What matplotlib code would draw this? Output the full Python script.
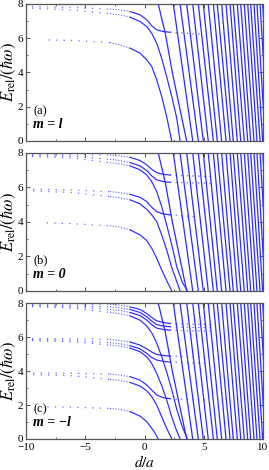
import numpy as np
import matplotlib.pyplot as plt
from matplotlib.ticker import MultipleLocator

plt.rcParams['font.family'] = ['Liberation Serif', 'DejaVu Serif']
plt.rcParams['mathtext.fontset'] = 'stix'

# steep lines, same in every panel: d/a where they leave E=8 and reach E=0
steep_top = [2.43, 3.00, 3.56, 4.07, 4.54, 4.96, 5.38, 5.81, 6.14, 6.51, 6.88,
             7.22, 7.49, 7.83, 8.12, 8.42, 8.71, 8.96, 9.24, 9.49, 9.75, 9.97]
steep_bot = [4.07, 4.54, 4.96, 5.38, 5.81, 6.14, 6.51, 6.88, 7.22, 7.49, 7.83,
             8.12, 8.42, 8.71, 8.96, 9.24, 9.49, 9.75, 9.97, 10.2, 10.45, 10.7]
# the first steep line is bent
first_d = [1.16, 1.75, 2.35, 2.95, 3.56]
first_E = [8.0, 6.3, 4.0, 2.0, 0.0]

# (d, E) of the levels; "dive" ones bend down to E=0, "up" ones go on to the right
a_dive6 = ([-8.1, -6.0, -2.91, -2.07, -1.22, -0.38, 0.19, 0.61, 1.03, 1.45, 1.87, 2.30],
           [5.90, 5.87, 5.75, 5.61, 5.42, 5.13, 4.74, 4.35, 3.57, 2.60, 1.42, 0.0])
a_up8 = ([-9.5, -6.0, -2.91, -2.07, -1.22, -0.38, 0.19, 0.61, 1.03, 1.59, 2.15, 3.2, 4.68],
         [7.85, 7.80, 7.70, 7.66, 7.56, 7.37, 7.08, 6.73, 6.49, 6.39, 6.35, 6.30, 6.24])
a_dive8 = ([-9.5, -6.0, -2.91, -2.07, -1.22, -0.38, 0.19, 0.61, 1.03, 1.45, 1.87, 2.30, 2.72, 3.0],
           [7.75, 7.65, 7.43, 7.37, 7.23, 6.98, 6.68, 6.29, 5.71, 4.83, 3.76, 2.60, 1.33, 0.0])

b_dive4 = ([-8.25, -6.0, -2.91, -2.07, -1.22, -0.38, 0.19, 0.61, 1.03, 1.45, 1.87, 2.30],
           [3.95, 3.90, 3.77, 3.69, 3.54, 3.25, 2.92, 2.47, 1.89, 1.22, 0.60, 0.0])
b_up6 = ([-9.4, -6.0, -2.91, -2.07, -1.22, -0.38, 0.19, 0.61, 1.03, 1.59, 2.15, 4.13],
         [5.90, 5.85, 5.76, 5.70, 5.60, 5.43, 5.18, 4.85, 4.60, 4.46, 4.41, 4.31])
b_dive6 = ([-9.4, -6.0, -2.91, -2.07, -1.22, -0.38, 0.19, 0.61, 1.03, 1.45, 1.87, 2.30, 2.72, 3.0],
           [5.80, 5.70, 5.47, 5.41, 5.28, 5.05, 4.73, 4.41, 4.02, 3.25, 2.38, 1.35, 0.55, 0.0])
b_up8a = ([-9.5, -6.0, -2.91, -2.07, -1.22, -0.38, 0.19, 0.61, 1.03, 1.59, 2.15, 3.5, 5.8],
          [7.92, 7.90, 7.88, 7.83, 7.75, 7.56, 7.31, 7.05, 6.86, 6.76, 6.72, 6.68, 6.63])
b_up8b = ([-9.5, -6.0, -2.91, -2.07, -1.22, -0.38, 0.19, 0.61, 1.03, 1.59, 2.15, 3.5, 5.8],
          [7.85, 7.80, 7.63, 7.56, 7.44, 7.25, 6.98, 6.67, 6.44, 6.34, 6.30, 6.27, 6.24])
b_dive8 = ([-9.5, -6.0, -2.91, -2.07, -1.22, -0.38, 0.19, 0.61, 1.03, 1.45, 1.87, 2.30, 2.72, 3.19, 3.62],
           [7.80, 7.70, 7.44, 7.36, 7.25, 7.02, 6.72, 6.34, 5.76, 4.89, 3.83, 2.67, 1.41, 0.50, 0.0])

c_dive2 = ([-8.2, -6.0, -2.91, -2.07, -1.22, -0.38, 0.19, 0.61, 0.90, 1.16],
           [1.90, 1.87, 1.80, 1.75, 1.61, 1.35, 1.02, 0.63, 0.33, 0.0])
c_up4 = ([-9.4, -6.0, -2.91, -2.07, -1.22, -0.38, 0.19, 0.61, 1.03, 1.59, 2.15, 3.5, 5.25],
         [3.90, 3.87, 3.82, 3.76, 3.67, 3.47, 3.18, 2.88, 2.59, 2.43, 2.37, 2.33, 2.29])
c_dive4 = ([-9.4, -6.0, -2.91, -2.07, -1.22, -0.38, 0.19, 0.61, 1.03, 1.45, 1.87, 2.30],
           [3.80, 3.72, 3.51, 3.45, 3.33, 3.12, 2.84, 2.49, 2.00, 1.31, 0.63, 0.0])
c_up6a = ([-9.5, -6.0, -2.91, -2.07, -1.22, -0.38, 0.19, 0.61, 1.03, 1.59, 2.15, 3.5, 5.5],
          [5.92, 5.90, 5.86, 5.80, 5.71, 5.53, 5.31, 5.12, 4.98, 4.92, 4.88, 4.84, 4.80])
c_up6b = ([-9.5, -6.0, -2.91, -2.07, -1.22, -0.38, 0.19, 0.61, 1.03, 1.59, 2.15, 3.5, 5.5],
          [5.85, 5.80, 5.67, 5.61, 5.49, 5.31, 5.04, 4.80, 4.65, 4.57, 4.53, 4.49, 4.45])
c_dive6 = ([-9.5, -6.0, -2.91, -2.07, -1.22, -0.38, 0.19, 0.61, 1.03, 1.45, 1.87, 2.30, 2.65, 3.0],
           [5.80, 5.72, 5.53, 5.47, 5.35, 5.14, 4.84, 4.45, 3.86, 3.15, 2.30, 1.30, 0.60, 0.0])
c_up8a = ([-9.5, -6.0, -2.91, -2.07, -1.22, -0.38, 0.19, 0.61, 1.03, 1.59, 2.15, 3.5, 5.8],
          [7.96, 7.95, 7.94, 7.88, 7.78, 7.63, 7.39, 7.16, 6.96, 6.86, 6.80, 6.77, 6.74])
c_up8b = ([-9.5, -6.0, -2.91, -2.07, -1.22, -0.38, 0.19, 0.61, 1.03, 1.59, 2.15, 3.5, 5.8],
          [7.90, 7.85, 7.78, 7.72, 7.63, 7.45, 7.20, 6.94, 6.74, 6.65, 6.61, 6.58, 6.55])
c_up8c = ([-9.5, -6.0, -2.91, -2.07, -1.22, -0.38, 0.19, 0.61, 1.03, 1.59, 2.15, 3.5, 5.8],
          [7.85, 7.78, 7.63, 7.57, 7.45, 7.27, 7.00, 6.73, 6.53, 6.45, 6.41, 6.38, 6.35])
c_dive8 = ([-9.5, -6.0, -2.91, -2.07, -1.22, -0.38, 0.19, 0.61, 1.03, 1.45, 1.87, 2.30, 2.72, 3.15, 3.62],
           [7.80, 7.70, 7.45, 7.38, 7.25, 7.00, 6.65, 6.25, 5.65, 4.85, 3.95, 2.90, 1.75, 0.80, 0.0])

panels = [
    ("(a)", "m = l", [a_dive6, a_dive8], [a_up8]),
    ("(b)", "m = 0", [b_dive4, b_dive6, b_dive8], [b_up6, b_up8a, b_up8b]),
    ("(c)", "m = \u2212l", [c_dive2, c_dive4, c_dive6, c_dive8], [c_up4, c_up6a, c_up6b, c_up8a, c_up8b, c_up8c]),
]

blue = '#2a2aff'
frame = '#555555'
rects = [[0.0967, 0.700, 0.881, 0.2915],
         [0.0967, 0.381, 0.881, 0.2936],
         [0.0967, 0.066, 0.881, 0.289]]


def draw_level(ax, curve, goes_right):
    d = np.array(curve[0])
    E = np.array(curve[1])
    far = d <= -2.91
    near = (d >= -2.91) & (d <= -1.22)
    if goes_right:
        mid = (d >= -1.22) & (d <= 2.15)
        tail = d >= 2.15
        ax.plot(d[tail], E[tail], color=blue, lw=0.9, alpha=0.75, ls=(0, (1, 3.5)))
    else:
        mid = d >= -1.22
    ax.plot(d[far], E[far], color=blue, lw=0.9, alpha=0.7, ls=(0, (1, 5)))
    ax.plot(d[near], E[near], color=blue, lw=0.8, alpha=0.75, ls=(0, (1, 1.5)))
    ax.plot(d[mid], E[mid], color=blue, lw=0.85)


fig = plt.figure(figsize=(2.69, 4.70), dpi=100)
for i, (tag, mlabel, dives, ups) in enumerate(panels):
    ax = fig.add_axes(rects[i])
    for top, bot in zip(steep_top, steep_bot):
        ax.plot([top, bot], [8, 0], color=blue, lw=0.9)
    ax.plot(first_d, first_E, color=blue, lw=0.9)
    for c in dives:
        draw_level(ax, c, False)
    for c in ups:
        draw_level(ax, c, True)

    ax.set_xlim(-10, 10)
    ax.set_ylim(0, 8)
    ax.xaxis.set_major_locator(MultipleLocator(5))
    ax.xaxis.set_minor_locator(MultipleLocator(2.5))
    ax.yaxis.set_major_locator(MultipleLocator(2))
    ax.yaxis.set_minor_locator(MultipleLocator(1))
    ax.tick_params(which='both', direction='in', top=True, right=True,
                   color=frame, labelsize=8, pad=2)
    ax.tick_params(axis='x', pad=3)
    ax.tick_params(which='major', length=3, width=0.7)
    ax.tick_params(which='minor', length=1.5, width=0.6)
    for s in ax.spines.values():
        s.set_color(frame)
        s.set_linewidth(0.9)
    ax.set_ylabel(r'$E_{\rm rel}/(\hbar\omega)$', fontsize=12, labelpad=0)
    if i < 2:
        ax.set_xticklabels([])
    else:
        ax.set_xticks([-10, -5, 0, 5, 10])
        ax.set_xticklabels(['\u221210', '\u22125', '0', '5', '10'])
        ax.set_xlabel(r'$d/a$', fontsize=11, labelpad=1)

    ax.text(-9.4, 1.75, tag, fontsize=9, va='center', ha='left',
            family='Liberation Serif')
    ax.text(-9.4, 0.95, mlabel, fontsize=10, va='center', ha='left',
            family='Liberation Serif', fontstyle='italic', fontweight='bold')

fig.savefig('out.png', dpi=100)
